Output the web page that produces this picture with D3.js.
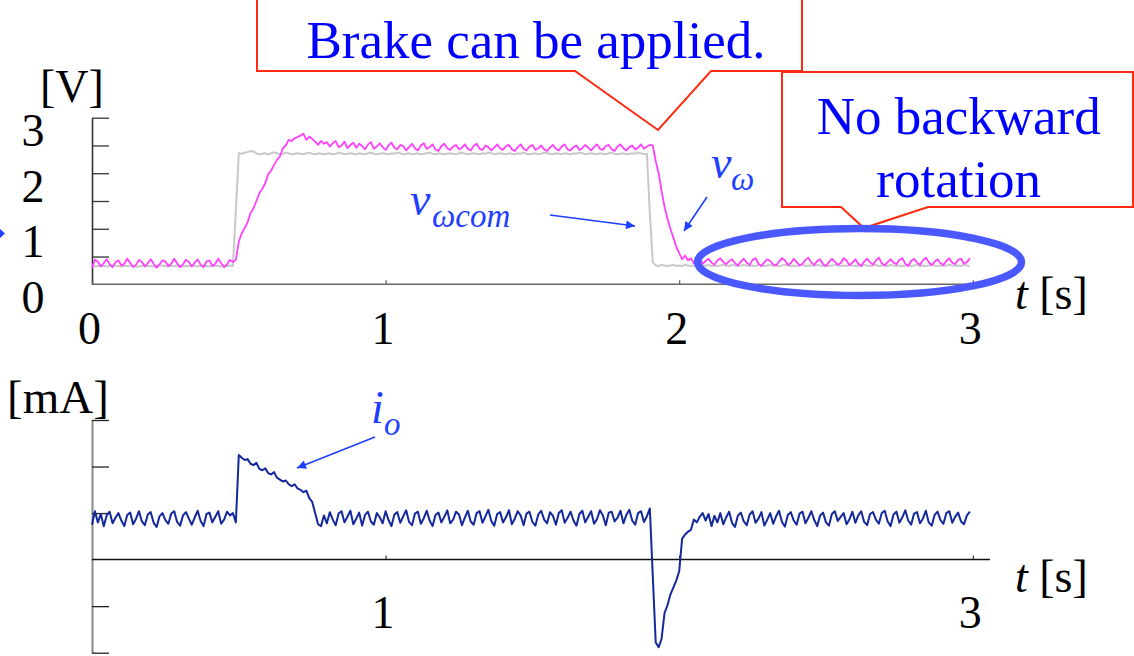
<!DOCTYPE html>
<html><head><meta charset="utf-8">
<script src="https://cdn.jsdelivr.net/npm/d3@7"></script>
<style>body{margin:0;background:#fff}svg{display:block}
svg text{font-family:'Liberation Serif','Times New Roman',Times,'DejaVu Serif','Noto Serif',serif !important;}</style>
</head><body>
<svg id="c" width="1134" height="656"></svg>
<script>
// sampling step of the recorded signals [s]; values below are in hundredths (V*100, mA*100)
const dt = 0.01;
const vCom = [
33,32,33,34,33,32,33,33,34,33, 32,33,33,34,33,32,32,33,34,33,
33,32,33,34,34,33,32,33,33,34, 33,32,33,33,34,33,32,33,34,33,
32,33,34,33,32,33,33,34,33,134, 236,235,237,238,240,239,236,234,235,236,
234,236,238,236,234,235,237,236,234,235, 236,235,234,236,237,235,234,236,235,234,
235,236,234,235,237,236,234,235,236,235, 234,236,235,234,236,237,235,234,235,236,
235,234,236,235,237,236,234,235,236,234, 235,236,234,235,236,237,235,234,236,235,
234,235,236,235,234,236,237,235,234,235, 236,235,234,236,235,237,236,234,235,236,
235,234,236,235,234,236,235,237,235,234, 235,236,234,235,237,236,235,234,236,235,
234,236,235,234,236,235,237,236,234,235, 236,235,234,236,235,234,236,237,235,234,
235,236,234,235,236,235,237,236,234,235, 128,40,34,33,35,34,33,34,35,33,
34,33,35,34,33,34,36,34,33,34, 35,33,34,33,34,35,34,33,35,34,
33,34,35,34,33,34,33,35,34,33, 34,35,33,34,33,34,35,34,33,34,
33,34,35,33,34,34,33,35,34,33, 34,33,34,35,34,33,34,33,35,34,
33,34,33,35,34,33,34,35,33,34, 34,33,35,34,33,34,33,34,35,33,
34,35,33,34,33,34,35,34,33,34, 33,34,35,34,33,34,33,35,34,33
];
const vOmega = [
30,44,41,32,38,45,36,31,40,43, 34,37,46,39,31,35,44,40,32,38,
45,37,30,36,43,41,33,37,46,38, 31,36,44,40,32,39,45,35,31,41,
43,33,37,46,38,31,36,44,40,44, 77,92,101,112,128,137,150,164,172,182,
198,205,215,224,230,245,250,260,258,263, 265,268,271,260,266,262,257,251,258,253,
256,248,254,258,247,250,257,245,251,255, 246,253,249,243,252,256,244,248,254,247,
242,250,255,246,243,251,249,241,247,253, 245,241,250,254,244,247,252,243,240,249,
253,245,242,248,251,243,246,252,244,241, 249,253,244,242,250,247,241,246,252,245,
242,249,251,243,240,247,252,244,241,248, 251,242,245,250,243,240,246,251,244,241,
248,252,243,241,247,250,242,245,251,246, 241,247,252,244,242,249,251,243,240,248,
252,245,241,247,250,243,246,252,244,248, 251,250,222,200,168,140,118,100,84,68,
56,45,52,43,47,38,44,48,37,42, 46,39,35,43,47,40,36,42,45,38,
34,41,46,39,35,44,47,37,33,40, 45,42,36,34,41,47,43,35,38,46,
40,34,37,44,48,39,35,42,45,36, 33,40,46,41,35,38,47,43,34,39,
45,37,33,41,46,40,35,43,48,38, 34,40,45,39,36,44,47,37,33,42,
46,39,35,43,48,40,34,41,45,38, 35,42,47,39,36,44,46,37,40,47
];
const iO = [
75,104,80,98,72,95,103,78,90,100, 84,72,96,101,76,88,104,82,74,97,
102,79,70,93,100,85,77,99,104,81, 73,95,102,88,75,91,105,83,72,98,
101,80,92,104,77,86,103,95,100,80, 225,219,214,216,206,203,208,195,192,196,
186,183,188,176,172,168,170,162,158,162, 153,150,145,148,132,124,100,76,72,95,
78,102,86,74,99,104,80,92,105,76, 88,101,73,96,103,82,75,100,91,78,
104,85,72,97,102,79,93,106,81,74, 99,103,77,89,105,84,72,96,101,80,
92,106,78,86,103,97,74,90,105,82, 75,100,104,79,93,107,83,73,98,102,
80,91,106,76,88,104,95,74,99,103, 81,73,97,105,86,78,102,94,75,100,
106,79,90,103,84,73,98,105,80,92, 104,77,87,106,95,74,101,103,82,90,
105,78,96,107,84,75,100,104,81,93, 110,-35,-178,-188,-170,-115,-98,-75,-60,-45,
-25,45,54,60,64,86,80,92,100,84, 98,72,94,80,100,76,91,103,79,70,
95,101,82,74,97,104,79,88,102,73, 86,100,77,93,105,81,71,96,102,84,
75,99,103,78,90,104,85,72,95,101, 80,73,98,104,83,92,100,76,87,103,
79,95,104,81,74,98,102,86,77,100, 105,82,72,97,103,79,91,106,84,75,
99,102,78,88,105,80,73,96,103,85, 77,100,104,79,92,101,82,76,95,103
];
const vTicks = [0.5,1,1.5,2,2.5,3];
const vLabels = [0,1,2,3];
const iTicks = [-2,-1,1,2,3];
const xTicks = [0,1,2,3];
const xLabelsTop = [0,1,2,3];
const xLabelsBottom = [1,3];

const serif = "'Liberation Serif','Times New Roman',Times,'DejaVu Serif',serif";
const svg = d3.select('#c');
const x = d3.scaleLinear().domain([0,3]).range([92,972.8]);
const yV = d3.scaleLinear().domain([0,3]).range([284.3,117.7]);
const yI = d3.scaleLinear().domain([-2,3]).range([652.7,420]);

// ---- callout boxes ----
svg.append('path')
  .attr('d','M257,-5V71H575L658,130L711,71H802V-5')
  .attr('fill','#fff').attr('stroke','#ff2a10').attr('stroke-width',2);
svg.append('text').attr('x',536).attr('y',58).attr('text-anchor','middle')
  .style('font-family',serif).attr('font-size',53).attr('fill','#0000ff')
  .text('Brake can be applied.');
svg.append('path')
  .attr('d','M782,72V207H841L864,228L928,207H1133V72Z')
  .attr('fill','#fff').attr('stroke','#ff2a10').attr('stroke-width',2);
svg.append('text').attr('x',958.7).attr('y',134.3).attr('text-anchor','middle')
  .style('font-family',serif).attr('font-size',53).attr('fill','#0000ff').text('No backward');
svg.append('text').attr('x',958.7).attr('y',197.3).attr('text-anchor','middle')
  .style('font-family',serif).attr('font-size',53).attr('fill','#0000ff').text('rotation');

// ---- top axes ----
const gyV = svg.append('g').attr('transform','translate(92,0)')
  .call(d3.axisLeft(yV).tickValues(vTicks).tickSize(-17).tickSizeOuter(0).tickFormat(''));
gyV.select('.domain').attr('stroke','#333').attr('stroke-width',1.6);
gyV.selectAll('.tick line').attr('stroke','#333').attr('stroke-width',1.3);
svg.append('g').selectAll('text').data(vLabels).join('text')
  .attr('x',33).attr('y',d=>yV(d)+28.6).attr('text-anchor','middle')
  .style('font-family',serif).attr('font-size',46).attr('fill','#000').text(d=>d);
svg.append('text').attr('x',40).attr('y',102).style('font-family',serif)
  .attr('font-size',46).attr('fill','#000').text('[V]');

const gxV = svg.append('g').attr('transform',`translate(0,${yV(0)})`)
  .call(d3.axisBottom(x).tickValues(xTicks).tickSize(-4).tickSizeOuter(0)
    .tickFormat(d=>xLabelsTop.includes(d)?d:''));
gxV.select('.domain').remove();
gxV.selectAll('.tick line').attr('stroke','#555').attr('stroke-width',1.2);
gxV.selectAll('.tick text').attr('y',60).attr('dy',0).attr('dx',-3)
  .style('font-family',serif).attr('font-size',46).attr('fill','#000');
svg.append('line').attr('x1',x(0)).attr('x2',990).attr('y1',yV(0)).attr('y2',yV(0))
  .attr('stroke','#666').attr('stroke-width',1.6);
const tTop = svg.append('text').attr('x',1015).attr('y',309)
  .style('font-family',serif).attr('font-size',46).attr('fill','#000');
tTop.append('tspan').attr('font-style','italic').text('t');
tTop.append('tspan').text(' [s]');

// ---- top lines ----
const lineV = d3.line().x((d,i)=>x(i*dt)).y(d=>yV(d/100));
svg.append('path').datum(vCom).attr('d',lineV).attr('fill','none')
  .attr('stroke','#c8c8c8').attr('stroke-width',2).attr('stroke-linejoin','round');
svg.append('path').datum(vOmega).attr('d',lineV).attr('fill','none')
  .attr('stroke','#ff40ff').attr('stroke-width',1.8).attr('stroke-linejoin','round');

// ---- bottom axes ----
const gyI = svg.append('g').attr('transform','translate(92,0)')
  .call(d3.axisLeft(yI).tickValues(iTicks).tickSize(-17).tickSizeOuter(0).tickFormat(''));
gyI.select('.domain').attr('stroke','#888').attr('stroke-width',2);
gyI.selectAll('.tick line').attr('stroke','#222').attr('stroke-width',1.3);
svg.append('text').attr('x',7).attr('y',413).style('font-family',serif)
  .attr('font-size',47).attr('fill','#000').text('[mA]');
const gxI = svg.append('g').attr('transform',`translate(0,${yI(0)})`)
  .call(d3.axisBottom(x).tickValues(xTicks.slice(1)).tickSize(-4).tickSizeOuter(0)
    .tickFormat(d=>xLabelsBottom.includes(d)?d:''));
gxI.select('.domain').remove();
gxI.selectAll('.tick line').attr('stroke','#333').attr('stroke-width',1.2);
gxI.selectAll('.tick text').attr('y',68).attr('dy',0).attr('dx',-3)
  .style('font-family',serif).attr('font-size',46).attr('fill','#000');
svg.append('line').attr('x1',x(0)).attr('x2',990).attr('y1',yI(0)).attr('y2',yI(0))
  .attr('stroke','#111').attr('stroke-width',1.5);
const tBot = svg.append('text').attr('x',1015).attr('y',592)
  .style('font-family',serif).attr('font-size',46).attr('fill','#000');
tBot.append('tspan').attr('font-style','italic').text('t');
tBot.append('tspan').text(' [s]');

const lineI = d3.line().x((d,i)=>x(i*dt)).y(d=>yI(d/100));
svg.append('path').datum(iO).attr('d',lineI).attr('fill','none')
  .attr('stroke','#14289c').attr('stroke-width',2).attr('stroke-linejoin','round');

// ---- ellipse ----
svg.append('ellipse').attr('cx',859.5).attr('cy',262).attr('rx',162).attr('ry',33.5)
  .attr('fill','none').attr('stroke','#4a58ff').attr('stroke-width',7.5);

// ---- annotations ----
const blue = '#1f3fff';
svg.append('defs').append('marker').attr('id','ah').attr('viewBox','0 0 10 10')
  .attr('refX',10).attr('refY',5).attr('markerUnits','userSpaceOnUse')
  .attr('markerWidth',12).attr('markerHeight',9).attr('orient','auto')
  .append('path').attr('d','M0,0L10,5L0,10Z').attr('fill',blue);
const arrows = [[550,215,635,226],[707,197,684,231],[375,437,297,468]];
svg.append('g').selectAll('line').data(arrows).join('line')
  .attr('x1',d=>d[0]).attr('y1',d=>d[1]).attr('x2',d=>d[2]).attr('y2',d=>d[3])
  .attr('stroke',blue).attr('stroke-width',1.6).attr('marker-end','url(#ah)');

function lab(xp,yp,txt,size){
  svg.append('text').attr('x',xp).attr('y',yp).style('font-family',serif)
    .attr('font-style','italic').attr('font-size',size).attr('fill',blue).text(txt);
}
lab(410,215,'v',46); lab(432,227,'ωcom',33);
lab(711,178,'v',46); lab(731,190,'ω',33);
lab(371,423,'i',46); lab(384,435,'o',33);

svg.append('path').attr('d','M0,229L5,233.5L0,238Z').attr('fill',blue);
</script>
</body></html>
